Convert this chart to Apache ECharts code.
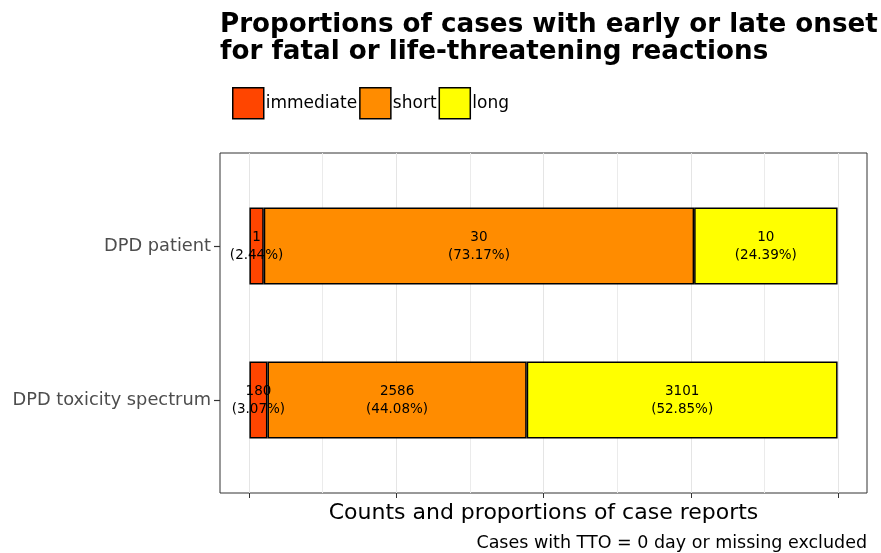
<!DOCTYPE html>
<html>
<head>
<meta charset="utf-8">
<script src="https://cdn.jsdelivr.net/npm/echarts@6/dist/echarts.min.js"></script>
<style>
  html, body { margin: 0; padding: 0; background: #fff; }
  #chart { width: 881px; height: 553px; }
</style>
</head>
<body>
<div id="chart"></div>
<script>
// bottom to top, as in the picture
const categories = ["DPD toxicity spectrum", "DPD patient"];
const onsetNames = ["immediate", "short", "long"];
const onsetColors = ["#FF4500", "#FF8C00", "#FFFF00"];
const immediateCounts = [180, 1];
const shortCounts = [2586, 30];
const longCounts = [3101, 10];
const xTicks = [0, 0.25, 0.5, 0.75, 1];

const countsList = [immediateCounts, shortCounts, longCounts];
const totals = categories.map((c, i) => countsList.reduce((s, arr) => s + arr[i], 0));

const font = "DejaVu Sans";
const chart = echarts.init(document.getElementById("chart"));

const series = onsetNames.map((name, k) => ({
  name: name,
  type: "bar",
  stack: "onset",
  xAxisIndex: 1,
  yAxisIndex: 1,
  barWidth: "50%",
  itemStyle: { color: onsetColors[k], borderColor: "#000", borderWidth: 1.5 },
  label: {
    show: true,
    position: "inside",
    fontFamily: font,
    fontSize: 13.5,
    lineHeight: 18,
    color: "#000",
    formatter: p => {
      const n = countsList[k][p.dataIndex];
      return n + "\n(" + (n / totals[p.dataIndex] * 100).toFixed(2) + "%)";
    }
  },
  data: countsList[k].map((n, i) => n / totals[i])
}));

chart.setOption({
  animation: false,
  title: [
    {
      text: "Proportions of cases with early or late onset\nfor fatal or life-threatening reactions",
      left: 220,
      top: 12,
      padding: 0,
      textStyle: { fontFamily: font, fontWeight: "bold", fontSize: 26.2, lineHeight: 27, color: "#000" }
    },
    {
      text: "Cases with TTO = 0 day or missing excluded",
      right: 14,
      top: 534,
      padding: 0,
      textStyle: { fontFamily: font, fontWeight: "normal", fontSize: 17.5, color: "#000" }
    }
  ],
  legend: {
    data: onsetNames,
    left: 232,
    top: 87,
    padding: 0,
    itemWidth: 31,
    itemHeight: 31,
    itemGap: 2,
    icon: "rect",
    textStyle: { fontFamily: font, fontSize: 17, color: "#000", padding: [0, 0, 0, -3] },
    itemStyle: { borderColor: "#000", borderWidth: 1.5 }
  },
  grid: [
    // panel border
    { left: 220, right: 14, top: 153, bottom: 60, show: true, borderColor: "#333", borderWidth: 1, backgroundColor: "transparent" },
    // bars (x range padded by 5% each side like the panel)
    { left: 220, right: 14, top: 169, bottom: 76 },
    // grid lines and ticks
    { left: 249, right: 43, top: 153, bottom: 60 }
  ],
  xAxis: [
    {
      gridIndex: 0, type: "value", min: 0, max: 1,
      name: "Counts and proportions of case reports",
      nameLocation: "middle",
      nameGap: 9,
      nameTextStyle: { fontFamily: font, fontSize: 22, color: "#000" },
      axisLine: { show: false }, axisTick: { show: false }, axisLabel: { show: false }, splitLine: { show: false }
    },
    { gridIndex: 1, type: "value", min: -0.05, max: 1.05, show: false },
    {
      gridIndex: 2, type: "value", min: xTicks[0], max: xTicks[xTicks.length - 1], interval: 0.25,
      axisLine: { show: false },
      axisTick: { show: true, length: 5, lineStyle: { color: "#333", width: 1 } },
      axisLabel: { show: false },
      splitLine: { show: true, lineStyle: { color: "#e5e5e5", width: 1 } },
      minorTick: { show: false, splitNumber: 2 },
      minorSplitLine: { show: true, lineStyle: { color: "#ebebeb", width: 1 } }
    }
  ],
  yAxis: [
    { gridIndex: 0, type: "value", show: false },
    {
      gridIndex: 1, type: "category", data: categories,
      axisLine: { show: false, onZero: false },
      axisTick: { show: true, length: 6, alignWithLabel: true, lineStyle: { color: "#333", width: 1.2 } },
      axisLabel: { fontFamily: font, fontSize: 17.8, color: "#4d4d4d", margin: 9 },
      splitLine: { show: false }
    },
    { gridIndex: 2, type: "value", show: false }
  ],
  series: series
});
</script>
</body>
</html>
